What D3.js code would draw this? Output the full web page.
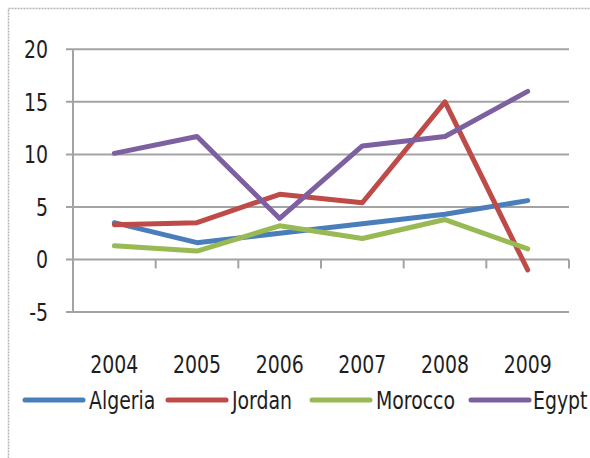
<!DOCTYPE html>
<html>
<head>
<meta charset="utf-8">
<script src="https://d3js.org/d3.v7.min.js"></script>
<style>
    body { margin: 0; background: #fff; }
    text { font-family: "DejaVu Sans Condensed", "DejaVu Sans", sans-serif; fill: #1e1e1e; font-size: 21px; }
</style>
</head>
<body>
<div id="line-chart"></div>
<script>
// values
let years = ["2004", "2005", "2006", "2007", "2008", "2009"];
let countries = ["Algeria", "Jordan", "Morocco", "Egypt"];
let colors = ["#4a7ebb", "#be4b48", "#98b954", "#7d60a0"];
let yTicks = [-5, 0, 5, 10, 15, 20];

let algeria = [3.5, 1.6, 2.5, 3.4, 4.3, 5.6];
let jordan = [3.3, 3.5, 6.2, 5.4, 15, -1];
let morocco = [1.3, 0.8, 3.2, 2.0, 3.8, 1.0];
let egypt = [10.1, 11.7, 3.9, 10.8, 11.7, 16.0];

// the source picture was stretched upwards, so the text is too
let stretch = 1.19;
function place(x, y){
    return "translate(" + x + "," + y + ") scale(1," + stretch + ")";
}

function LineChart(series){
    let self = this;
    self.series = series;
    self.init();
};

LineChart.prototype.init = function(){
    let self = this;
    self.svgWidth = 590;
    self.svgHeight = 458;

    self.svg = d3.select("#line-chart").html("").append("svg")
        .attr("width", self.svgWidth)
        .attr("height", self.svgHeight)

    // dotted frame round the chart area
    self.svg.append("rect")
        .attr("x", 8.5)
        .attr("y", 8.5)
        .attr("width", 620)
        .attr("height", 520)
        .attr("fill", "none")
        .attr("stroke", "#b4b4b4")
        .attr("stroke-width", 1.5)
        .attr("stroke-dasharray", "2,1")

    self.x = d3.scaleBand().domain(years).range([73, 569]).padding(0);
    self.y = d3.scaleLinear().domain([-5, 20]).range([312, 49.3]);

    self.drawAxes();
    self.drawLines();
    self.drawLegend();
};

LineChart.prototype.drawAxes = function(){
    let self = this;
    let x = self.x, y = self.y;

    // gridlines + y tick marks
    self.svg.append("g")
        .selectAll("line")
        .data(yTicks)
        .enter()
        .append("line")
        .attr("x1", 66)
        .attr("x2", 569)
        .attr("y1", (d) => y(d))
        .attr("y2", (d) => y(d))
        .attr("stroke", "#a3a3a3")
        .attr("stroke-width", 2)

    self.svg.append("line")
        .attr("x1", 73).attr("x2", 73)
        .attr("y1", y(20)).attr("y2", y(-5))
        .attr("stroke", "#a3a3a3")
        .attr("stroke-width", 2)

    self.svg.append("g")
        .selectAll("text")
        .data(yTicks)
        .enter()
        .append("text")
        .attr("transform", (d) => place(48, y(d) + 9))
        .attr("text-anchor", "end")
        .text((d) => d)

    // category tick marks on the zero line
    let bounds = years.map((d) => x(d)).concat([x(years[years.length - 1]) + x.bandwidth()]);
    self.svg.append("g")
        .selectAll("line")
        .data(bounds.slice(1))
        .enter()
        .append("line")
        .attr("x1", (d) => d)
        .attr("x2", (d) => d)
        .attr("y1", y(0))
        .attr("y2", y(0) + 9)
        .attr("stroke", "#a3a3a3")
        .attr("stroke-width", 2)

    self.svg.append("g")
        .selectAll("text")
        .data(years)
        .enter()
        .append("text")
        .attr("transform", (d) => place(x(d) + x.bandwidth() / 2, 373))
        .attr("text-anchor", "middle")
        .text((d) => d)
};

LineChart.prototype.drawLines = function(){
    let self = this;
    let line = d3.line()
        .x((d, i) => self.x(years[i]) + self.x.bandwidth() / 2)
        .y((d) => self.y(d));

    self.svg.append("g")
        .selectAll("path")
        .data(self.series)
        .enter()
        .append("path")
        .attr("d", (d) => line(d.values))
        .attr("fill", "none")
        .attr("stroke", (d, i) => colors[i])
        .attr("stroke-width", 5)
        .attr("stroke-linejoin", "round")
        .attr("stroke-linecap", "round")
};

LineChart.prototype.drawLegend = function(){
    let self = this;
    let starts = [25, 168, 312, 471];

    let items = self.svg.append("g")
        .selectAll("g")
        .data(self.series)
        .enter()
        .append("g")
        .attr("transform", (d, i) => "translate(" + starts[i] + ",400)")

    items.append("line")
        .attr("x1", 0)
        .attr("x2", 58)
        .attr("stroke", (d, i) => colors[i])
        .attr("stroke-width", 5)
        .attr("stroke-linecap", "round")

    items.append("text")
        .attr("transform", (d, i) => place(i == 3 ? 62 : 64, 8.5))
        .text((d) => d.name)
};

let chart = new LineChart([
    {name: countries[0], values: algeria},
    {name: countries[1], values: jordan},
    {name: countries[2], values: morocco},
    {name: countries[3], values: egypt}
]);
</script>
</body>
</html>
